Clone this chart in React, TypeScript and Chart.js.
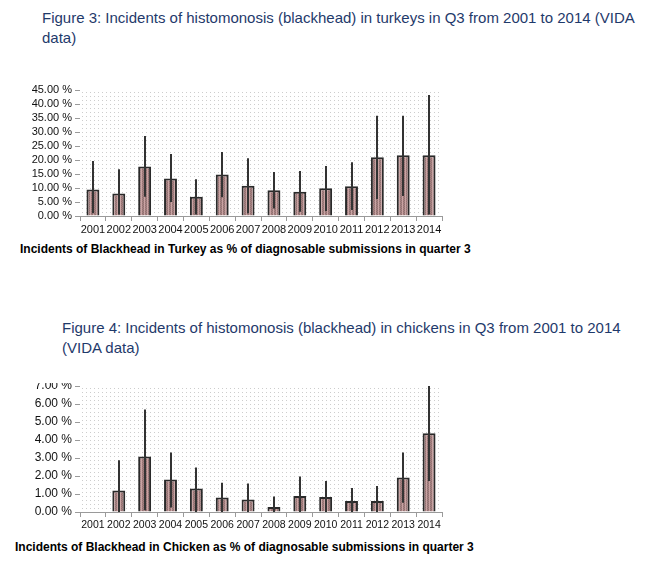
import React, { useEffect, useRef } from "react";
import { Chart, registerables } from "chart.js";

Chart.register(...registerables);

const years = ["2001", "2002", "2003", "2004", "2005", "2006", "2007", "2008", "2009", "2010", "2011", "2012", "2013", "2014"];

const turkeyPct = [9.5, 8.0, 17.7, 13.4, 6.9, 14.8, 10.8, 9.2, 8.7, 9.9, 10.6, 21.0, 21.7, 21.7];
const turkeyLow = [1.0, 0.5, 6.9, 5.0, 0.5, 6.7, 1.0, 2.7, 1.5, 1.8, 2.1, 6.1, 7.1, 0.5];
const turkeyHigh = [19.6, 16.7, 28.6, 22.1, 13.1, 22.9, 20.6, 15.7, 16.1, 17.9, 19.2, 35.8, 35.8, 43.2];

const chickenPct = [null, 1.2, 3.08, 1.8, 1.3, 0.8, 0.69, 0.28, 0.89, 0.83, 0.61, 0.61, 1.91, 4.37];
const chickenLow = [null, 0, 0.1, 0.25, 0, 0, 0, 0, 0, 0, 0, 0, 0.52, 1.72];
const chickenHigh = [null, 2.87, 5.7, 3.3, 2.47, 1.63, 1.58, 0.86, 1.97, 1.72, 1.33, 1.44, 3.3, 8.0];

const turkeyTitle = "Incidents of Blackhead in Turkey as % of diagnosable submissions in quarter 3";
const chickenTitle = "Incidents of Blackhead in Chicken as % of diagnosable submissions in quarter 3";

const FONT = "'Liberation Sans', Arial, sans-serif";

function makeBarPattern(): CanvasPattern | string {
  const c = document.createElement("canvas");
  c.width = 3;
  c.height = 2;
  const g = c.getContext("2d");
  if (!g) return "#a88080";
  g.fillStyle = "#a97f7f";
  g.fillRect(0, 0, 3, 2);
  g.fillStyle = "#c9a3a3";
  g.fillRect(0, 0, 1, 2);
  g.fillStyle = "#8e7474";
  g.fillRect(1, 1, 1, 1);
  g.fillRect(2, 0, 1, 1);
  const p = g.createPattern(c, "repeat");
  return p || "#a88080";
}

const dotsPlugin = {
  id: "dotsBg",
  beforeDatasetsDraw(chart: any) {
    const { ctx, chartArea } = chart;
    ctx.save();
    ctx.fillStyle = "#ffffff";
    ctx.fillRect(chartArea.left, chartArea.top, chartArea.right - chartArea.left, chartArea.bottom - chartArea.top);
    ctx.fillStyle = "#cdcdcd";
    for (let y = chartArea.top + 2; y < chartArea.bottom; y += 4) {
      for (let x = chartArea.left + 2; x < chartArea.right; x += 4) {
        ctx.fillRect(x, y, 1, 1);
      }
    }
    ctx.restore();
  },
};

const errorBarPlugin = {
  id: "errBars",
  afterDatasetsDraw(chart: any, _args: any, opts: any) {
    const { ctx, chartArea } = chart;
    const yScale = chart.scales.y;
    const xScale = chart.scales.x;
    const low: (number | null)[] = opts.low || [];
    const high: (number | null)[] = opts.high || [];
    ctx.save();
    ctx.beginPath();
    ctx.rect(chartArea.left, chartArea.top, chartArea.right - chartArea.left, chartArea.bottom - chartArea.top);
    ctx.clip();
    ctx.strokeStyle = "#333333";
    ctx.lineWidth = 2;
    for (let i = 0; i < low.length; i++) {
      const lo = low[i];
      const hi = high[i];
      if (lo == null || hi == null) continue;
      const x = Math.round(xScale.getPixelForValue(i));
      ctx.beginPath();
      ctx.moveTo(x, yScale.getPixelForValue(lo));
      ctx.lineTo(x, yScale.getPixelForValue(hi));
      ctx.stroke();
    }
    ctx.restore();
  },
};

function buildChart(
  canvas: HTMLCanvasElement,
  values: (number | null)[],
  low: (number | null)[],
  high: (number | null)[],
  max: number,
  step: number,
  padTop: number,
  yFontSize: number,
  xFontSize: number
) {
  return new Chart(canvas, {
    type: "bar",
    data: {
      labels: years,
      datasets: [
        {
          data: values as any,
          backgroundColor: makeBarPattern() as any,
          borderColor: "#2a2a2a",
          borderWidth: 2,
          barPercentage: 0.5,
          categoryPercentage: 1,
        },
      ],
    },
    options: {
      responsive: false,
      animation: false,
      layout: { padding: { top: padTop, right: 8, left: 0, bottom: 0 } },
      plugins: {
        legend: { display: false },
        tooltip: { enabled: false },
        errBars: { low, high },
      } as any,
      scales: {
        x: {
          offset: true,
          grid: { offset: true, drawOnChartArea: false, drawTicks: true, tickLength: 5, color: "#9a9a9a" },
          border: { color: "#9a9a9a", width: 1 },
          ticks: {
            autoSkip: false,
            maxRotation: 0,
            minRotation: 0,
            padding: 2,
            color: "#111111",
            font: { family: FONT, size: xFontSize },
          },
          afterFit: (s: any) => {
            s.height = 24;
            s.paddingLeft = 0;
            s.paddingRight = 0;
          },
        },
        y: {
          min: 0,
          max,
          grid: { drawOnChartArea: false, drawTicks: true, tickLength: 5, color: "#9a9a9a" },
          border: { color: "#9a9a9a", width: 1 },
          ticks: {
            stepSize: step,
            autoSkip: false,
            padding: 3,
            color: "#111111",
            font: { family: FONT, size: yFontSize },
            callback: (v: any) => Number(v).toFixed(2) + " %",
          },
          afterFit: (s: any) => {
            s.width = 80;
            s.paddingTop = 0;
            s.paddingBottom = 0;
          },
        },
      },
    },
    plugins: [dotsPlugin, errorBarPlugin],
  });
}

export default function App() {
  const turkeyRef = useRef<HTMLCanvasElement>(null);
  const chickenRef = useRef<HTMLCanvasElement>(null);

  useEffect(() => {
    const charts: Chart[] = [];
    if (turkeyRef.current) charts.push(buildChart(turkeyRef.current, turkeyPct, turkeyLow, turkeyHigh, 45, 5, 10, 11, 11));
    if (chickenRef.current) charts.push(buildChart(chickenRef.current, chickenPct, chickenLow, chickenHigh, 7, 1, 3, 12, 10.5));
    return () => charts.forEach((c) => c.destroy());
  }, []);

  const caption: React.CSSProperties = {
    position: "absolute",
    fontFamily: FONT,
    fontSize: 15,
    lineHeight: "20px",
    color: "#1f3a6b",
    whiteSpace: "nowrap",
  };
  const axisTitle: React.CSSProperties = {
    position: "absolute",
    fontFamily: FONT,
    fontSize: 12,
    fontWeight: "bold",
    lineHeight: "14px",
    color: "#000",
    whiteSpace: "nowrap",
  };

  return (
    <div style={{ position: "absolute", left: 0, top: 0, width: 650, height: 567, background: "#fff", overflow: "hidden" }}>
      <div style={{ ...caption, left: 42, top: 8 }}>
        Figure 3: Incidents of histomonosis (blackhead) in turkeys in Q3 from 2001 to 2014 (VIDA
        <br />
        data)
      </div>
      <canvas ref={turkeyRef} width={450} height={160} style={{ position: "absolute", left: 0, top: 80, width: 450, height: 160 }} />
      <div style={{ ...axisTitle, left: 20, top: 242 }}>{turkeyTitle}</div>

      <div style={{ ...caption, left: 62, top: 318 }}>
        Figure 4: Incidents of histomonosis (blackhead) in chickens in Q3 from 2001 to 2014
        <br />
        (VIDA data)
      </div>
      <canvas ref={chickenRef} width={450} height={153} style={{ position: "absolute", left: 0, top: 383, width: 450, height: 153 }} />
      <div style={{ ...axisTitle, left: 15, top: 540 }}>{chickenTitle}</div>
    </div>
  );
}
